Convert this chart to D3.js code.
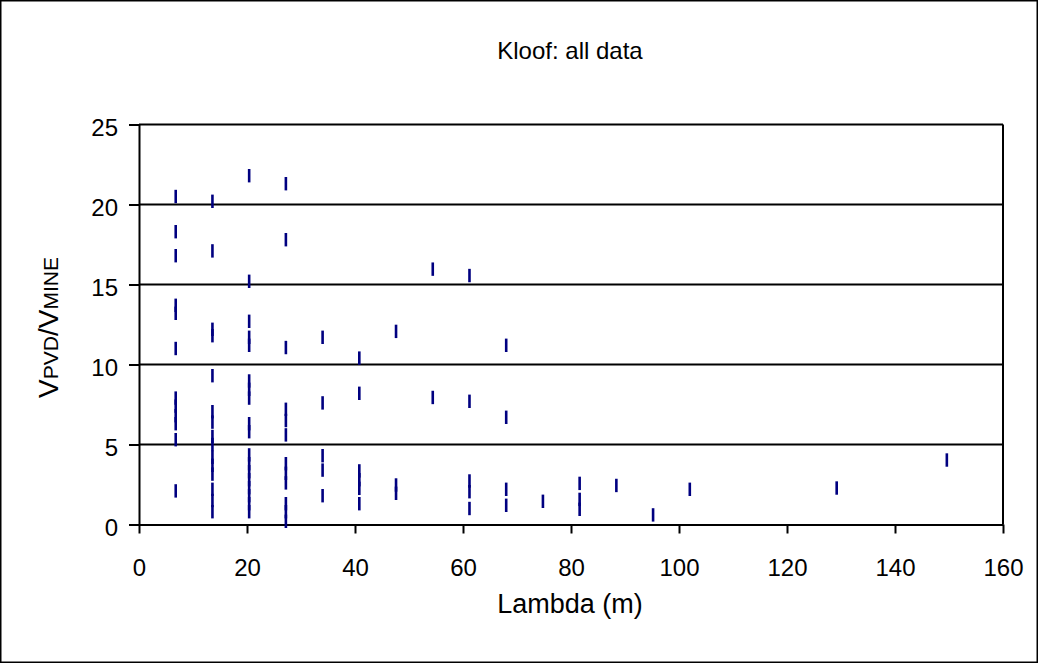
<!DOCTYPE html>
<html>
<head>
<meta charset="utf-8">
<script src="https://cdnjs.cloudflare.com/ajax/libs/d3/7.8.5/d3.min.js"></script>
<style>
  html, body { margin: 0; padding: 0; background: #fff; }
  svg { display: block; font-family: Arial, "Liberation Sans", sans-serif; }
</style>
</head>
<body>
<svg id="chart" width="1038" height="663"></svg>
<script>
// Wavelength of each measurement column (m)
const lambdaValues = [6.8, 13.6, 20.4, 27.2, 34, 40.8, 47.6, 54.4, 61.2, 68, 74.8, 81.6, 88.4, 95.2, 102, 129.2, 149.6];

// Vpvd/Vmine ratios recorded at each wavelength
const ratioValues = [
  [20.5, 18.3, 16.8, 13.7, 13.2, 11.0, 7.9, 7.4, 6.8, 6.3, 5.3, 2.1],
  [20.2, 17.1, 12.2, 11.8, 9.3, 7.05, 6.4, 5.5, 5.0, 4.2, 3.7, 3.15, 2.2, 1.5, 0.8],
  [21.8, 15.2, 12.7, 11.7, 11.2, 8.97, 8.45, 7.9, 6.3, 5.8, 4.35, 3.8, 3.3, 2.8, 2.3, 1.8, 1.3, 0.8],
  [21.3, 17.8, 11.06, 7.2, 6.5, 5.6, 3.8, 3.2, 2.6, 1.3, 0.8, 0.2],
  [11.7, 7.6, 4.3, 3.4, 1.8],
  [10.4, 8.2, 3.35, 2.8, 2.26, 1.3],
  [12.07, 2.47, 1.95],
  [15.96, 7.94],
  [15.56, 7.7, 2.72, 2.05, 1.0],
  [11.2, 6.7, 2.2, 1.2],
  [1.45],
  [2.57, 1.57, 0.95],
  [2.44],
  [0.6],
  [2.2],
  [2.28],
  [4.03]
];

const xTicks = [0, 20, 40, 60, 80, 100, 120, 140, 160];
const yTicks = [0, 5, 10, 15, 20, 25];

const points = [];
lambdaValues.forEach((lam, i) => ratioValues[i].forEach(v => points.push({ lambda: lam, ratio: v })));

const svg = d3.select("#chart");
const W = 1038, H = 663;
const plot = { left: 139, right: 1003, top: 124.5, bottom: 524.5 };
const FONT = "Arial, 'Liberation Sans', sans-serif";

// outer frame
svg.append("rect")
  .attr("x", 0.75).attr("y", 0.75)
  .attr("width", W - 1.5).attr("height", H - 1.5)
  .attr("fill", "#fff").attr("stroke", "#000").attr("stroke-width", 1.5);

const x = d3.scaleLinear().domain([0, 160]).range([plot.left, plot.right]);
const y = d3.scaleLinear().domain([0, 25]).range([plot.bottom, plot.top]);

// horizontal gridlines
svg.append("g")
  .selectAll("line")
  .data(yTicks.filter(t => t > 0))
  .join("line")
  .attr("x1", plot.left).attr("x2", plot.right)
  .attr("y1", d => y(d)).attr("y2", d => y(d))
  .attr("stroke", "#000").attr("stroke-width", 2);

// right edge of plot area
svg.append("line")
  .attr("x1", plot.right).attr("x2", plot.right)
  .attr("y1", plot.top).attr("y2", plot.bottom)
  .attr("stroke", "#000").attr("stroke-width", 2);

// axes
const xAxis = svg.append("g")
  .attr("transform", `translate(0,${plot.bottom})`)
  .call(d3.axisBottom(x).tickValues(xTicks).tickSize(9).tickPadding(25).tickSizeOuter(0));
const yAxis = svg.append("g")
  .attr("transform", `translate(${plot.left},0)`)
  .call(d3.axisLeft(y).tickValues(yTicks).tickSize(10).tickPadding(11).tickSizeOuter(0));

[xAxis, yAxis].forEach(g => {
  g.select(".domain").attr("stroke", "#000").attr("stroke-width", 2);
  g.selectAll(".tick line").attr("stroke", "#000").attr("stroke-width", 2);
  g.selectAll(".tick text").attr("fill", "#000").attr("font-size", 24).attr("font-family", FONT);
});
yAxis.selectAll(".tick text").attr("dy", "0.45em");

// vertical dash markers
const half = 6.7;
svg.append("g")
  .selectAll("line")
  .data(points)
  .join("line")
  .attr("x1", d => x(d.lambda)).attr("x2", d => x(d.lambda))
  .attr("y1", d => y(d.ratio) - half).attr("y2", d => y(d.ratio) + half)
  .attr("stroke", "#000080").attr("stroke-width", 2.6);

// title
svg.append("text")
  .attr("x", 570).attr("y", 59)
  .attr("text-anchor", "middle").attr("font-size", 24)
  .text("Kloof: all data");

// x axis title
svg.append("text")
  .attr("x", 570).attr("y", 613)
  .attr("text-anchor", "middle").attr("font-size", 27)
  .text("Lambda (m)");

// y axis title with subscripts
const yt = svg.append("text")
  .attr("transform", `translate(58,${(plot.top + plot.bottom) / 2 + 3}) rotate(-90)`)
  .attr("text-anchor", "middle").attr("font-size", 28);
yt.append("tspan").text("V");
yt.append("tspan").attr("font-size", 21).text("PVD");
yt.append("tspan").text("/V");
yt.append("tspan").attr("font-size", 21).text("MINE");
</script>
</body>
</html>
